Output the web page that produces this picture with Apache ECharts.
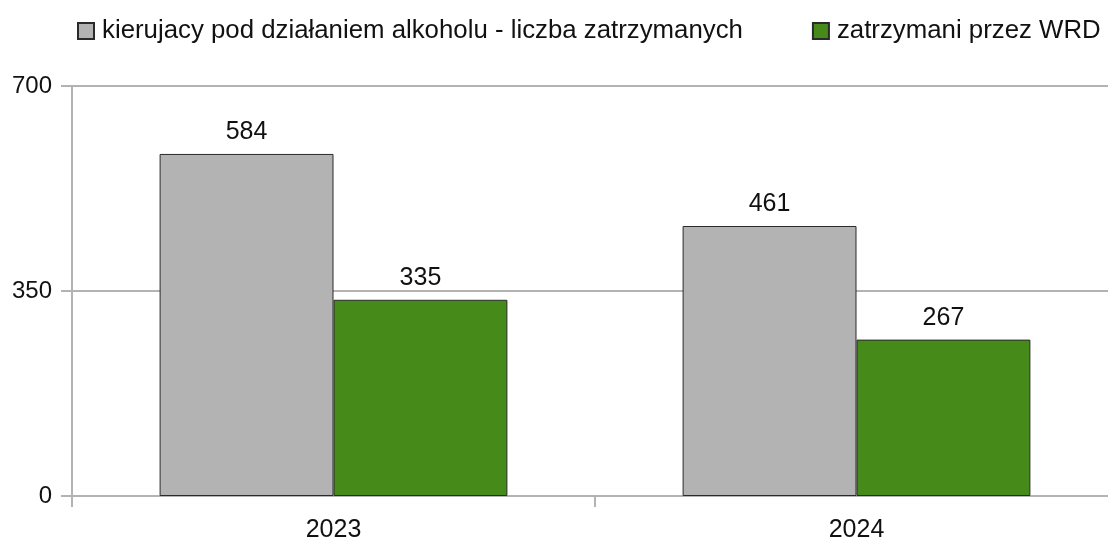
<!DOCTYPE html>
<html>
<head>
<meta charset="utf-8">
<script src="https://cdn.jsdelivr.net/npm/echarts@6/dist/echarts.min.js"></script>
<style>
  html, body { margin: 0; padding: 0; background: #fff; }
  #chart { width: 1108px; height: 542px; }
</style>
</head>
<body>
<div id="chart"></div>
<script>
const categories = ['2023', '2024'];
const seriesNames = ['kierujacy pod działaniem alkoholu - liczba zatrzymanych', 'zatrzymani przez WRD'];
const alkohol = [584, 461];
const wrd = [335, 267];
const yTicks = [0, 350, 700];

const font = 'Liberation Sans, Arial, sans-serif';
const myChart = echarts.init(document.getElementById('chart'));

const barStyle = (color) => ({
  color: color,
  borderColor: '#2a2a2a',
  borderWidth: 1
});

const labelStyle = { show: true, position: 'top', distance: 9, fontSize: 25, color: '#111', fontFamily: font };

myChart.setOption({
  animation: false,
  textStyle: { fontFamily: font },
  legend: {
    left: 72,
    top: 13,
    icon: 'rect',
    itemWidth: 16,
    itemHeight: 16,
    itemGap: 69,
    textStyle: { fontSize: 25.8, lineHeight: 26, color: '#111', fontFamily: font, padding: [0, 0, 0, 3] },
    data: seriesNames
  },
  // grid runs past the right edge, like the original
  grid: { left: 72, top: 86, width: 1046, bottom: 46, outerBoundsMode: 'none' },
  xAxis: {
    type: 'category',
    data: categories,
    axisLine: { lineStyle: { color: '#b3b3b3', width: 2 } },
    axisTick: { show: true, length: 11, lineStyle: { color: '#b3b3b3', width: 2 } },
    axisLabel: { fontSize: 25, color: '#111', margin: 22, fontFamily: font }
  },
  yAxis: {
    type: 'value',
    min: yTicks[0],
    max: yTicks[yTicks.length - 1],
    interval: yTicks[1] - yTicks[0],
    axisLine: { show: true, lineStyle: { color: '#b3b3b3', width: 2 } },
    axisTick: { show: true, length: 11, lineStyle: { color: '#b3b3b3', width: 2 } },
    splitLine: { lineStyle: { color: '#b3b3b3', width: 2 } },
    axisLabel: { fontSize: 24, color: '#111', margin: 20, fontFamily: font }
  },
  series: [
    {
      name: seriesNames[0],
      type: 'bar',
      data: alkohol,
      barGap: '0%',
      barCategoryGap: '33.5%',
      itemStyle: barStyle('#b3b3b3'),
      label: labelStyle
    },
    {
      name: seriesNames[1],
      type: 'bar',
      data: wrd,
      barGap: '0%',
      barCategoryGap: '33.5%',
      itemStyle: barStyle('#468a1a'),
      label: labelStyle
    }
  ]
});
</script>
</body>
</html>
